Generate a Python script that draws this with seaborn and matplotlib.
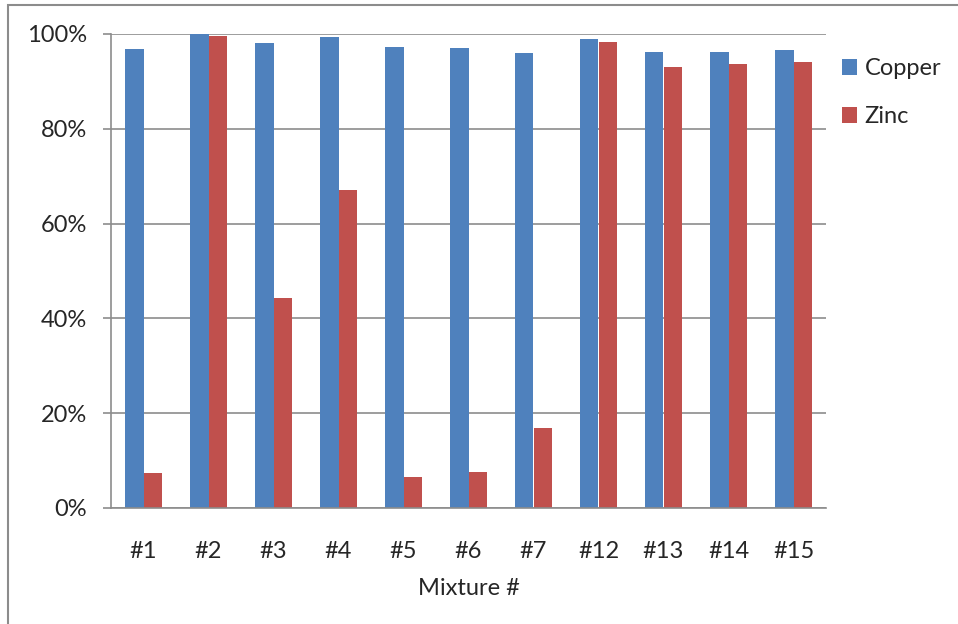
import seaborn as sns
import matplotlib.pyplot as plt
import pandas as pd
from matplotlib.patches import Rectangle
from matplotlib.ticker import PercentFormatter

# values (percent)
mixtures = ['#1', '#2', '#3', '#4', '#5', '#6', '#7', '#12', '#13', '#14', '#15']
copper = [96.8, 100.0, 98.2, 99.4, 97.3, 97.0, 95.9, 98.9, 96.2, 96.2, 96.7]
zinc = [7.4, 99.6, 44.3, 67.1, 6.5, 7.6, 16.9, 98.3, 93.0, 93.6, 94.0]
series = ['Copper', 'Zinc']
colors = ['#4F81BD', '#C0504D']

df = pd.DataFrame({
    'Mixture': mixtures * 2,
    'Metal': ['Copper'] * len(mixtures) + ['Zinc'] * len(mixtures),
    'Value': copper + zinc,
})

sns.set_style('white')
plt.rcParams['font.family'] = ['Lato', 'DejaVu Sans']
fs = 17

fig = plt.figure(figsize=(9.58, 6.24), dpi=100)
ax = fig.add_axes([111 / 958, 1 - 508 / 624, (826 - 111) / 958, (508 - 34) / 624])

sns.barplot(data=df, x='Mixture', y='Value', hue='Metal', order=mixtures,
            hue_order=series, palette=colors, width=0.57, gap=0,
            saturation=1, linewidth=0, ax=ax)

ax.set_ylim(0, 100)
ax.set_yticks([0, 20, 40, 60, 80, 100])
ax.yaxis.set_major_formatter(PercentFormatter(decimals=0))
ax.yaxis.grid(True, color='#8c8c8c', linewidth=1.2)
ax.set_axisbelow(True)
ax.set_xlim(-0.5, len(mixtures) - 0.5)

for side in ['top', 'right']:
    ax.spines[side].set_visible(False)
for side in ['left', 'bottom']:
    ax.spines[side].set_color('#8c8c8c')
    ax.spines[side].set_linewidth(1.2)

ax.tick_params(axis='y', left=True, length=5.5, width=1.2, color='#8c8c8c',
               labelsize=fs, pad=12)
ax.tick_params(axis='x', bottom=False, labelsize=fs, pad=20.5)
ax.set_ylabel('')
ax.set_xlabel('Mixture #', fontsize=fs, labelpad=11)

handles, labels = ax.get_legend_handles_labels()
ax.legend(handles, labels, loc='upper left', bbox_to_anchor=(842 / 958, 1 - 58 / 624),
          bbox_transform=fig.transFigure, frameon=False, fontsize=fs,
          borderpad=0, borderaxespad=0,
          handlelength=0.65, handleheight=0.65, handletextpad=0.3, labelspacing=1.15)

# outer chart border
fig.patches.append(Rectangle((8 / 958, -0.05), 1.2, 1.05 - 5 / 624,
                             transform=fig.transFigure, fill=False,
                             edgecolor='#8c8c8c', linewidth=1.5))

fig.savefig('out.png', dpi=100)
